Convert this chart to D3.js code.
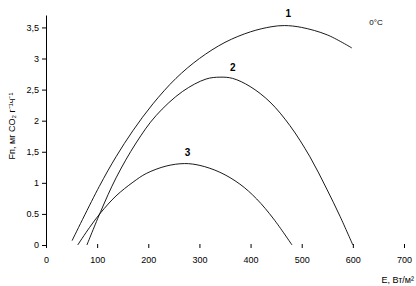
<!DOCTYPE html>
<head>
  <meta charset="utf-8">
  <script src="https://d3js.org/d3.v7.min.js"></script>
  <style>
    body { margin:0; background:#fff; }
    text { font-family: "Liberation Sans", Arial, sans-serif; }
  </style>
</head>
<body>
<script>
// curves: [E, Fn]
var curve1 = [[51,0.07],[104,0.94],[137,1.42],[170,1.84],[209,2.27],[254,2.68],[300,3.00],[350,3.26],
              [400,3.43],[440,3.51],[466,3.53],[500,3.50],[550,3.38],[598,3.17]];
var curve2 = [[80,0],[107,0.54],[137,1.08],[176,1.64],[215,2.08],[267,2.47],[313,2.67],[340,2.70],
              [365,2.68],[399,2.55],[438,2.30],[477,1.92],[516,1.42],[549,0.90],[575,0.46],[600,0]];
var curve3 = [[62,0],[85,0.28],[107,0.52],[137,0.79],[170,1.01],[196,1.15],[235,1.27],[271,1.31],
              [301,1.28],[340,1.17],[379,0.98],[412,0.74],[445,0.42],[481,0]];
var curveNames = ["1", "2", "3"];
var curvePeaks = [[466,3.53],[340,2.70],[271,1.31]];

var xTicks = [0,100,200,300,400,500,600,700];
var yTicks = [0,0.5,1,1.5,2,2.5,3,3.5];
var yTickLabels = ["0","0.5","1","1,5","2","2,5","3","3,5"];

var width = 416, height = 286;

var svg = d3.select("body").append("svg")
    .attr("width", width)
    .attr("height", height);

var x = d3.scaleLinear().domain([0,700]).range([46,404]);
var y = d3.scaleLinear().domain([0,3.7]).range([245,15]);

// y axis
var yAxis = svg.append("g")
    .attr("transform", "translate(46,0)")
    .call(d3.axisLeft(y).tickValues(yTicks).tickSize(4).tickSizeOuter(0).tickPadding(3)
      .tickFormat(function(d,i){ return yTickLabels[i]; }));
yAxis.selectAll("text").attr("font-size", 9).attr("fill", "#000");

// x axis - ticks only, no line
var xAxis = svg.append("g")
    .attr("transform", "translate(0,244)")
    .call(d3.axisBottom(x).tickValues(xTicks).tickSize(4).tickPadding(9));
xAxis.select(".domain").remove();
xAxis.selectAll("text").attr("font-size", 9).attr("fill", "#000");

var line = d3.line()
    .x(function(d){ return x(d[0]); })
    .y(function(d){ return y(d[1]); })
    .curve(d3.curveCatmullRom.alpha(0.5));

[curve1, curve2, curve3].forEach(function(c){
  svg.append("path")
    .datum(c)
    .attr("fill", "none")
    .attr("stroke", "#000")
    .attr("stroke-width", 0.9)
    .attr("d", line);
});

// curve numbers, placed just above each peak
var labelShift = [[4,-9],[13,-6],[3,-8]];
svg.selectAll(".num")
  .data(curvePeaks)
  .enter().append("text")
    .attr("class", "num")
    .attr("x", function(d,i){ return x(d[0]) + labelShift[i][0]; })
    .attr("y", function(d,i){ return y(d[1]) + labelShift[i][1]; })
    .attr("text-anchor", "middle")
    .attr("font-size", 10)
    .attr("font-weight", "bold")
    .text(function(d,i){ return curveNames[i]; });

svg.append("text")
    .attr("x", 376).attr("y", 25)
    .attr("text-anchor", "middle")
    .attr("font-size", 8)
    .text("0°C");

svg.append("text")
    .attr("x", 414).attr("y", 283)
    .attr("text-anchor", "end")
    .attr("font-size", 9)
    .text("E, Вт/м²");

svg.append("text")
    .attr("transform", "translate(15,126) rotate(-90)")
    .attr("text-anchor", "middle")
    .attr("font-size", 9)
    .text("Fп, мг CO₂ г⁻¹ч⁻¹");
</script>
</body>
